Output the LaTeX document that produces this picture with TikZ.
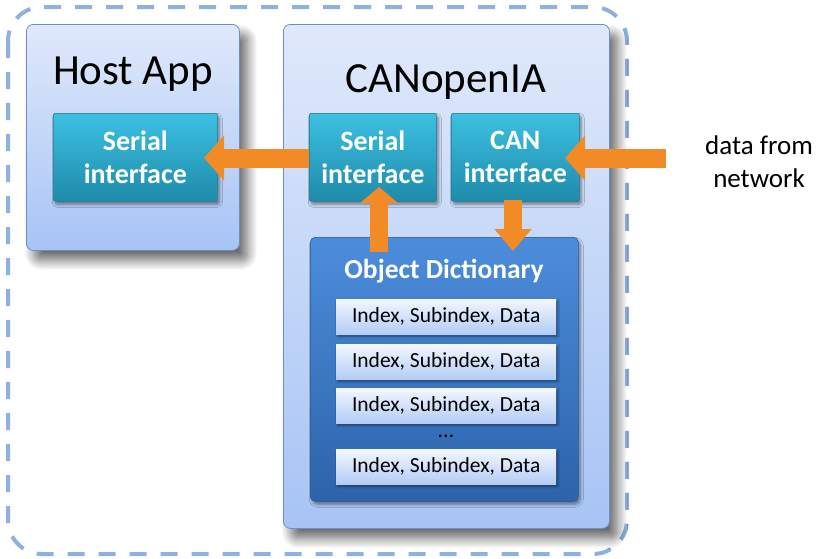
\documentclass[tikz,border=0pt]{standalone}
\usepackage{fontspec}
\setmainfont{Carlito}
\usetikzlibrary{shadows,shadows.blur,arrows.meta}
\definecolor{dashblue}{HTML}{8FB1E2}
\definecolor{outtop}{HTML}{E0E9FB}
\definecolor{outbot}{HTML}{A7C4F5}
\definecolor{outline}{HTML}{6E8FC6}
\definecolor{tealtop}{HTML}{3CC0E2}
\definecolor{tealbot}{HTML}{1F8BAA}
\definecolor{tealline}{HTML}{1A7D99}
\definecolor{odtop}{HTML}{4C8DDB}
\definecolor{odbot}{HTML}{2D63AA}
\definecolor{odline}{HTML}{2A5A9C}
\definecolor{entop}{HTML}{F3F7FF}
\definecolor{enbot}{HTML}{B3CCF5}
\definecolor{arrorange}{HTML}{F28A26}
\tikzset{
  outerbox/.style={draw=outline, line width=0.8pt, rounded corners=7pt, top color=outtop, bottom color=outbot, anchor=north west, inner sep=0pt,
    blur shadow={shadow xshift=8pt, shadow yshift=-10pt, shadow blur steps=12, shadow blur radius=10pt, shadow opacity=60}},
  ifbox/.style={draw=tealline, line width=0.6pt, rounded corners=2pt, top color=tealtop, bottom color=tealbot, anchor=north west, inner sep=0pt,
    blur shadow={shadow xshift=2pt, shadow yshift=-3pt, shadow blur radius=3pt, shadow opacity=45}},
  odbox/.style={draw=odline, line width=0.6pt, rounded corners=5pt, top color=odtop, bottom color=odbot, anchor=north west, inner sep=0pt,
    blur shadow={shadow xshift=2pt, shadow yshift=-3pt, shadow blur radius=3pt, shadow opacity=45}},
  entry/.style={draw=none, top color=entop, bottom color=enbot, anchor=north west, inner sep=0pt, minimum width=220pt, minimum height=35pt,
    blur shadow={shadow xshift=1.5pt, shadow yshift=-2pt, shadow blur radius=2pt, shadow opacity=45}},
  iftext/.style={font=\fontsize{28}{33}\selectfont\bfseries, text=white, align=center},
  title/.style={font=\fontsize{43}{50}\selectfont, text=black, anchor=base},
  entext/.style={font=\fontsize{21.5}{25}\selectfont, text=black},
  fatarrow/.style={draw=arrorange, line width=19pt, -{Triangle[width=44pt,length=20pt]}},
}
\begin{document}
\begin{tikzpicture}[x=1pt,y=-1pt]
\useasboundingbox (0,0) rectangle (817,558);
% outer dashed boundary
\draw[dashblue, line width=4pt, dash pattern=on 17pt off 14pt, rounded corners=34pt] (8,7) rectangle (627,554);
% main boxes
\node[outerbox, minimum width=213pt, minimum height=226pt] (host) at (26,24) {};
\node[outerbox, minimum width=326pt, minimum height=504pt] (canopen) at (283,24) {};
\node[title] (hosttitle) at (133,84) {Host App};
\node[title] (cantitle) at (446,92) {CANopenIA};
% interface boxes
\node[ifbox, minimum width=164pt, minimum height=88pt] (hostser) at (53,113) {};
\node[iftext] at (hostser.center) {Serial\\interface};
\node[ifbox, minimum width=127pt, minimum height=88pt] (canser) at (309,113) {};
\node[iftext] at (canser.center) {Serial\\interface};
\node[ifbox, minimum width=128pt, minimum height=88pt] (canif) at (451,113) {};
\node[iftext] at (canif.center) {CAN\\interface};
% object dictionary
\node[odbox, minimum width=268pt, minimum height=264pt] (od) at (310,237) {};
\node[font=\fontsize{27.5}{30}\selectfont\bfseries, text=white, anchor=base] (odtitle) at (444,278) {Object Dictionary};
\node[entry] (e1) at (336,299) {};
\node[entext] at (e1.center) {Index, Subindex, Data};
\node[entry] (e2) at (336,344) {};
\node[entext] at (e2.center) {Index, Subindex, Data};
\node[entry] (e3) at (336,388) {};
\node[entext] at (e3.center) {Index, Subindex, Data};
\node[font=\fontsize{22}{25}\selectfont, anchor=base] (dots) at (446,437) {\dots};
\node[entry] (e4) at (336,449) {};
\node[entext] at (e4.center) {Index, Subindex, Data};
% external text
\node[font=\fontsize{27}{33}\selectfont, align=center] (net) at (759,162) {data from\\network};
% arrows
\coordinate (netin) at (666,158);
\coordinate (canifin) at (565,158);
\coordinate (serout) at (309,158);
\coordinate (hostin) at (204,158);
\coordinate (odup) at (379,252);
\coordinate (serin) at (379,187);
\coordinate (candown) at (513,200);
\coordinate (odin) at (513,251);
\draw[fatarrow] (netin) -- (canifin);
\draw[fatarrow] (serout) -- (hostin);
\draw[fatarrow, line width=18pt, -{Triangle[width=37pt,length=16pt]}] (odup) -- (serin);
\draw[fatarrow, line width=18pt, -{Triangle[width=36pt,length=22pt]}] (candown) -- (odin);
\end{tikzpicture}
\end{document}
